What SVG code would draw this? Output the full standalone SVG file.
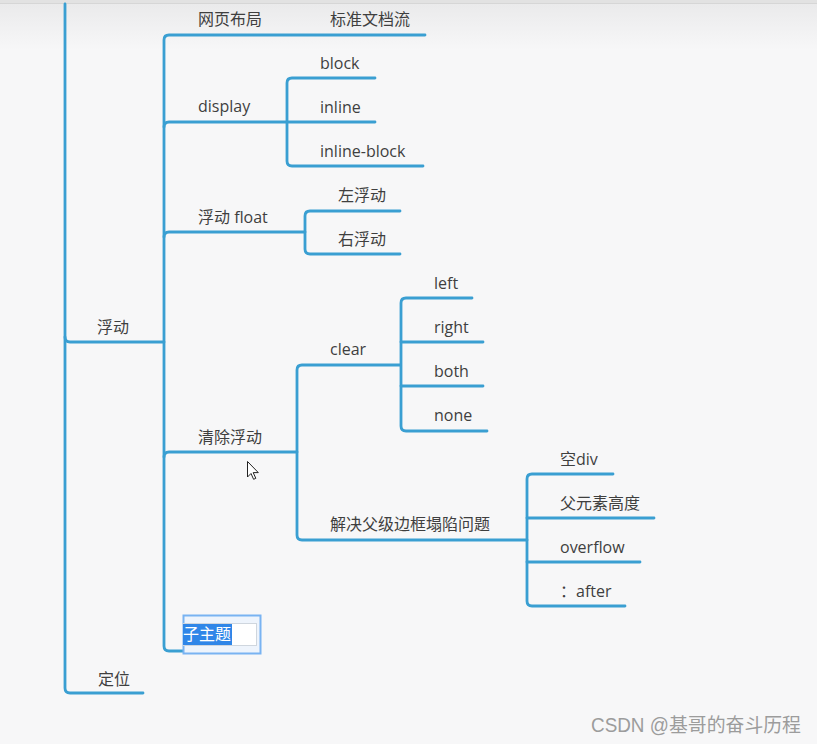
<svg xmlns="http://www.w3.org/2000/svg" width="817" height="744" viewBox="0 0 817 744">
  <defs>
    <linearGradient id="topband" x1="0" y1="0" x2="0" y2="1">
      <stop offset="0" stop-color="#e9e9ea"/>
      <stop offset="1" stop-color="#f7f7f8"/>
    </linearGradient>
    <style>
      .ln { fill: none; stroke: #3a9fd2; stroke-width: 2.8; stroke-linecap: round; stroke-linejoin: round; }
      .t { font-family: "Open Sans", "Noto Sans CJK SC", sans-serif; font-size: 16px; fill: #3f3f3f; }
      .wm { font-family: "Liberation Sans", "Noto Sans CJK SC", sans-serif; font-size: 19.5px; fill: #9c9c9c; }
    </style>
  </defs>
  <rect x="0" y="0" width="817" height="744" fill="#f7f7f8"/>
  <rect x="0" y="0" width="817" height="50" fill="url(#topband)"/>
  <rect x="0" y="0" width="817" height="3" fill="#e2e2e2"/>
  <line x1="0" y1="3.5" x2="817" y2="3.5" stroke="#d6d6d6" stroke-width="1"/>

  <g id="connectors">
    <path class="ln" d="M65,4 V688 Q65,693 70,693 H143"/>
    <path class="ln" d="M65,337 Q65,342 70,342 H164"/>
    <path class="ln" d="M425,35 H169 Q164,35 164,40 V646 Q164,651 169,651 H183"/>
    <path class="ln" d="M164,127 Q164,122 169,122 H287"/>
    <path class="ln" d="M375,78 H292 Q287,78 287,83 V161 Q287,166 292,166 H423"/>
    <path class="ln" d="M287,122 H375"/>
    <path class="ln" d="M164,237 Q164,232 169,232 H305"/>
    <path class="ln" d="M400,211 H310 Q305,211 305,216 V249 Q305,254 310,254 H400"/>
    <path class="ln" d="M164,457 Q164,452 169,452 H297"/>
    <path class="ln" d="M400,365 H302 Q297,365 297,370 V535 Q297,540 302,540 H527"/>
    <path class="ln" d="M472,298 H406 Q401,298 401,303 V426 Q401,431 406,431 H487"/>
    <path class="ln" d="M401,342 H483"/>
    <path class="ln" d="M401,386 H483"/>
    <path class="ln" d="M613,474 H532 Q527,474 527,479 V601 Q527,606 532,606 H625"/>
    <path class="ln" d="M527,518 H654"/>
    <path class="ln" d="M527,562 H640"/>
  </g>

  <g id="node-fudong"><text class="t" x="97" y="333">浮动</text></g>
  <g id="node-dingwei"><text class="t" x="98" y="685">定位</text></g>
  <g id="node-wangye"><text class="t" x="198" y="25">网页布局</text></g>
  <g id="node-biaozhun"><text class="t" x="330" y="25">标准文档流</text></g>
  <g id="node-display"><text class="t" x="198" y="112">display</text></g>
  <g id="node-block"><text class="t" x="320" y="69">block</text></g>
  <g id="node-inline"><text class="t" x="320" y="113">inline</text></g>
  <g id="node-inline-block"><text class="t" x="320" y="157">inline-block</text></g>
  <g id="node-float"><text class="t" x="198" y="223">浮动 float</text></g>
  <g id="node-left-float"><text class="t" x="338" y="201">左浮动</text></g>
  <g id="node-right-float"><text class="t" x="338" y="245">右浮动</text></g>
  <g id="node-clearfloat"><text class="t" x="198" y="443">清除浮动</text></g>
  <g id="node-clear"><text class="t" x="330" y="355">clear</text></g>
  <g id="node-left"><text class="t" x="434" y="289">left</text></g>
  <g id="node-right"><text class="t" x="434" y="333">right</text></g>
  <g id="node-both"><text class="t" x="434" y="377">both</text></g>
  <g id="node-none"><text class="t" x="434" y="421">none</text></g>
  <g id="node-collapse"><text class="t" x="330" y="530">解决父级边框塌陷问题</text></g>
  <g id="node-emptydiv"><text class="t" x="560" y="465">空div</text></g>
  <g id="node-height"><text class="t" x="560" y="509">父元素高度</text></g>
  <g id="node-overflow"><text class="t" x="560" y="553">overflow</text></g>
  <g id="node-after"><text class="t" x="560" y="597">：after</text></g>

  <g id="node-subtopic">
    <rect x="183.5" y="615.5" width="77" height="38" fill="#eef4fc" stroke="#79b3f2" stroke-width="2"/>
    <rect x="183.5" y="623.5" width="73" height="22" fill="#ffffff" stroke="#cfd6de" stroke-width="1"/>
    <rect x="183" y="624" width="49" height="21" fill="#2f86e8"/>
    <text class="t" x="183" y="640" style="fill:#ffffff">子主题</text>
  </g>

  <g id="cursor">
    <path d="M247.5,461.5 V477 L251,473.5 L253.6,479.3 L255.8,478.3 L253.2,472.6 H258.3 Z" fill="#ffffff" stroke="#222222" stroke-width="1" stroke-linejoin="round"/>
  </g>

  <text class="wm" x="591" y="732" textLength="210" lengthAdjust="spacingAndGlyphs">CSDN @基哥的奋斗历程</text>
</svg>
